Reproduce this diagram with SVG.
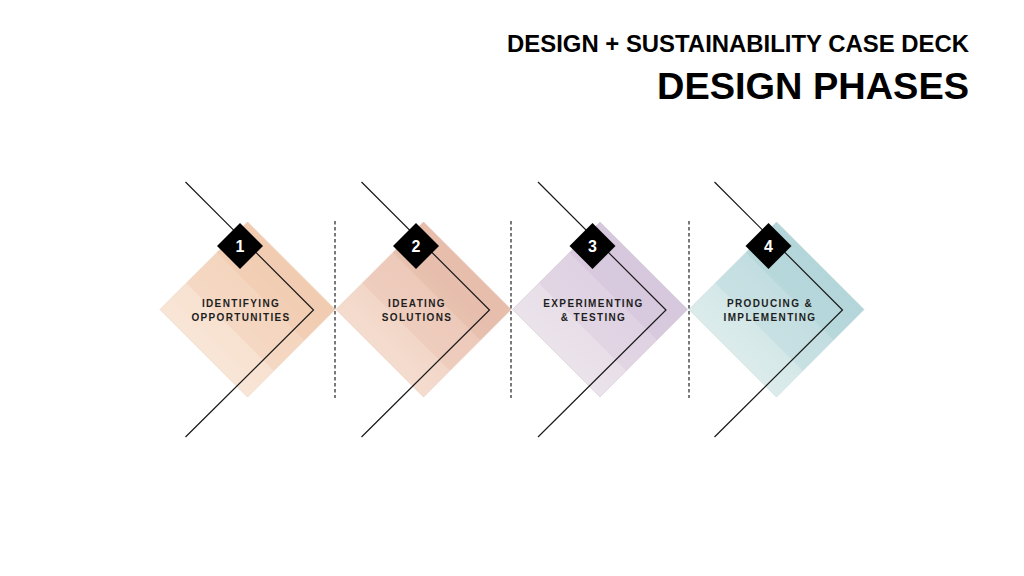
<svg xmlns="http://www.w3.org/2000/svg" width="1024" height="576" viewBox="0 0 1024 576">
  <defs>
    <style>
      .title { font-family: "Liberation Sans", Arial, sans-serif; font-weight: bold; fill: #000; }
      .label { font-family: "Liberation Sans", Arial, sans-serif; font-weight: bold; font-size: 10px; letter-spacing: 1.35px; fill: #1e1e1e; text-anchor: middle; }
      .num { font-family: "Liberation Sans", Arial, sans-serif; font-weight: bold; font-size: 16px; fill: #fff; text-anchor: middle; }
      .chev { fill: none; stroke: #1a1a1a; stroke-width: 1.2; }
      .dash { stroke: #222; stroke-width: 1.2; stroke-dasharray: 3.5 2.5; }
      .badge { fill: #000; }
      .band { opacity: 0.35; }
    </style>
    <linearGradient id="g1" x1="0" y1="1" x2="1" y2="0">
      <stop offset="0" stop-color="#fbede2"/>
      <stop offset="1" stop-color="#f2cfb5"/>
    </linearGradient>
    <linearGradient id="g2" x1="0" y1="1" x2="1" y2="0">
      <stop offset="0" stop-color="#f8e6d8"/>
      <stop offset="1" stop-color="#e9bfb0"/>
    </linearGradient>
    <linearGradient id="g3" x1="0" y1="1" x2="1" y2="0">
      <stop offset="0" stop-color="#f1eaed"/>
      <stop offset="1" stop-color="#d9cde2"/>
    </linearGradient>
    <linearGradient id="g4" x1="0" y1="1" x2="1" y2="0">
      <stop offset="0" stop-color="#e8f2ef"/>
      <stop offset="1" stop-color="#b7d8de"/>
    </linearGradient>
    <polygon id="dia" points="0,-87.5 87.5,0 0,87.5 -87.5,0"/>
    <polygon id="bandA" points="-61.25,-26.25 0,-87.5 87.5,0 26.25,61.25"/>
    <polygon id="bandB" points="-30.6,-56.9 0,-87.5 87.5,0 56.9,30.6"/>
  </defs>

  <rect width="1024" height="576" fill="#fff"/>

  <g id="title">
    <text class="title" x="969" y="52" font-size="23" text-anchor="end" textLength="462" lengthAdjust="spacingAndGlyphs">DESIGN + SUSTAINABILITY CASE DECK</text>
    <text class="title" x="969" y="99" font-size="37" text-anchor="end" textLength="312" lengthAdjust="spacingAndGlyphs">DESIGN PHASES</text>
  </g>

  <g id="phase1" transform="translate(247.5,309.5)">
    <use href="#dia" fill="url(#g1)" stroke="#ecd8c8" stroke-width="0.8"/>
    <use href="#bandA" class="band" fill="#f2c9ab"/>
    <use href="#bandB" class="band" fill="#eec2a4"/>
  </g>
  <g id="phase2" transform="translate(423.5,309.5)">
    <use href="#dia" fill="url(#g2)" stroke="#ead2c5" stroke-width="0.8"/>
    <use href="#bandA" class="band" fill="#e8bcab"/>
    <use href="#bandB" class="band" fill="#e0ae9c"/>
  </g>
  <g id="phase3" transform="translate(600,309.5)">
    <use href="#dia" fill="url(#g3)" stroke="#dcd4db" stroke-width="0.8"/>
    <use href="#bandA" class="band" fill="#d6c7de"/>
    <use href="#bandB" class="band" fill="#cbbad4"/>
  </g>
  <g id="phase4" transform="translate(776.5,309.5)">
    <use href="#dia" fill="url(#g4)" stroke="#cadfdf" stroke-width="0.8"/>
    <use href="#bandA" class="band" fill="#b1d5da"/>
    <use href="#bandB" class="band" fill="#a3cdd2"/>
  </g>

  <g id="connectors">
    <line class="dash" x1="335" y1="221" x2="335" y2="398"/>
    <line class="dash" x1="511" y1="221" x2="511" y2="398"/>
    <line class="dash" x1="689" y1="221" x2="689" y2="398"/>
    <polyline class="chev" points="185.5,182 313.5,310 185.5,437"/>
    <polyline class="chev" points="361.5,182 489.5,310 361.5,437"/>
    <polyline class="chev" points="538,182 666,310 538,437"/>
    <polyline class="chev" points="714.5,182 842.5,310 714.5,437"/>
  </g>

  <g id="label1">
    <polygon class="badge" points="240,223 263,246 240,269 217,246"/>
    <text class="num" x="240" y="252">1</text>
    <text class="label" x="241" y="306.5">IDENTIFYING</text>
    <text class="label" x="241" y="321">OPPORTUNITIES</text>
  </g>
  <g id="label2">
    <polygon class="badge" points="416,223 439,246 416,269 393,246"/>
    <text class="num" x="416" y="252">2</text>
    <text class="label" x="417" y="306.5">IDEATING</text>
    <text class="label" x="417" y="321">SOLUTIONS</text>
  </g>
  <g id="label3">
    <polygon class="badge" points="592.5,223 615.5,246 592.5,269 569.5,246"/>
    <text class="num" x="592.5" y="252">3</text>
    <text class="label" x="593.5" y="306.5">EXPERIMENTING</text>
    <text class="label" x="593.5" y="321">&amp; TESTING</text>
  </g>
  <g id="label4">
    <polygon class="badge" points="768.5,223 791.5,246 768.5,269 745.5,246"/>
    <text class="num" x="768.5" y="252">4</text>
    <text class="label" x="770" y="306.5">PRODUCING &amp;</text>
    <text class="label" x="770" y="321">IMPLEMENTING</text>
  </g>
</svg>
